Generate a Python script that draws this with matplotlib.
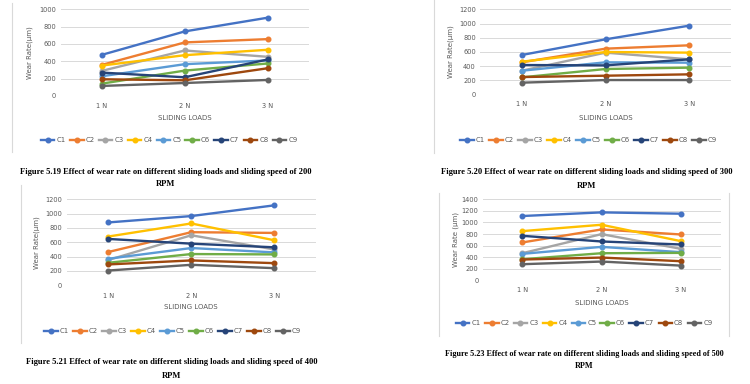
import matplotlib.pyplot as plt
from matplotlib.lines import Line2D

# categories and series names
loads = ["1 N", "2 N", "3 N"]
series = ["C1", "C2", "C3", "C4", "C5", "C6", "C7", "C8", "C9"]
colors = ["#4472C4", "#ED7D31", "#A5A5A5", "#FFC000", "#5B9BD5",
          "#70AD47", "#264478", "#9E480E", "#636363"]

# wear rate values (um), one row per series C1..C9
rpm200 = [[475, 745, 903], [359, 618, 656], [290, 525, 452],
          [351, 471, 533], [228, 367, 410], [143, 293, 375],
          [270, 216, 421], [193, 181, 320], [116, 150, 185]]
rpm300 = [[558, 778, 970], [455, 647, 694], [337, 591, 497],
          [464, 600, 591], [337, 455, 450], [244, 361, 380],
          [417, 412, 497], [248, 267, 286], [169, 206, 206]]
rpm400 = [[877, 966, 1116], [464, 741, 731], [352, 698, 500],
          [680, 863, 628], [370, 520, 459], [314, 436, 431],
          [647, 581, 530], [291, 347, 309], [206, 286, 239]]
rpm500 = [[1111, 1174, 1151], [654, 879, 792], [468, 798, 544],
          [850, 960, 677], [457, 578, 486], [364, 468, 474],
          [769, 671, 619], [359, 393, 330], [278, 324, 254]]

captions = ["Figure 5.19 Effect of wear rate on different sliding loads and sliding speed of 200",
            "Figure 5.20 Effect of wear rate on different sliding loads and sliding speed of 300",
            "Figure 5.21 Effect of wear rate on different sliding loads and sliding speed of 400",
            "Figure 5.23 Effect of wear rate on different sliding loads and sliding speed of 500"]
ylabels = ["Wear Rate(\u00b5m)", "Wear Rate(\u00b5m)", "Wear Rate(\u00b5m)", "Wear Rate (\u00b5m)"]
ymax = [1000, 1200, 1200, 1400]

W, H = 750, 384
fig = plt.figure(figsize=(W / 100, H / 100), dpi=100)
fig.patch.set_facecolor("white")


def fx(x):
    return x / W


def fy(y):
    return 1 - y / H


# pixel layout of each panel:
# axes (left, right, top, bottom), ylabel x, tick y, xlabel y, legend y,
# caption centre x, caption y, RPM y, border lines
layout = [
    dict(ax=(60.5, 309, 9.3, 96), ylab=30, tick=107, xlab=118, leg=140, legx=(33, 305),
         cx=166, cy=172, ry=184, cs=6.1, borders=[(12, 3, 152)]),
    dict(ax=(480, 731, 9.3, 94.7), ylab=451, tick=105, xlab=118, leg=140, legx=(454, 723),
         cx=587, cy=172, ry=186, cs=6.15, borders=[(434, 0, 153)]),
    dict(ax=(66.5, 316, 199.3, 285.3), ylab=37, tick=296, xlab=307, leg=331, legx=(40, 305),
         cx=172, cy=362, ry=376, cs=6.1, borders=[(21, 185, 343)]),
    dict(ax=(482.6, 720.5, 199.3, 280.3), ylab=456, tick=290, xlab=303, leg=323, legx=(456, 712),
         cx=584, cy=354, ry=366, cs=5.9, borders=[(439, 193, 336), (729, 193, 336)]),
]

data = [rpm200, rpm300, rpm400, rpm500]
grey = "#595959"

for k in range(4):
    L = layout[k]
    left, right, top, bottom = L["ax"]
    ax = fig.add_axes([fx(left), fy(bottom), fx(right) - fx(left), fy(top) - fy(bottom)])
    for i, name in enumerate(series):
        ax.plot(range(3), data[k][i], color=colors[i], lw=1.7, marker="o",
                ms=3.3, label=name, zorder=3)
    ax.set_xlim(-0.5, 2.5)
    ax.set_ylim(0, ymax[k])
    ax.set_yticks(range(0, ymax[k] + 1, 200))
    ax.set_xticks(range(3))
    ax.set_xticklabels(loads)
    ax.tick_params(length=0, labelsize=4.8, labelcolor=grey, pad=3)
    ax.tick_params(axis="x", pad=((L["tick"] - bottom) - 3.5) * 0.72)
    ax.grid(axis="y", color="#D9D9D9", lw=0.7, zorder=0)
    for s in ax.spines.values():
        s.set_visible(False)
    ax.set_axisbelow(True)

    fig.text(fx(L["ylab"]), fy((top + bottom) / 2), ylabels[k], rotation=90,
             ha="center", va="center", fontsize=5, color=grey)
    fig.text(fx((left + right) / 2), fy(L["xlab"]), "SLIDING LOADS",
             ha="center", va="center", fontsize=5, color=grey)

    handles, labels = ax.get_legend_handles_labels()
    lx0, lx1 = L["legx"]
    leg = fig.legend(handles, labels, loc="center",
                     bbox_to_anchor=(fx((lx0 + lx1) / 2), fy(L["leg"])),
                     ncol=9, frameon=False, fontsize=5, handlelength=2.0,
                     handletextpad=0.25, columnspacing=0.6, borderpad=0)
    for t in leg.get_texts():
        t.set_color(grey)

    fig.text(fx(L["cx"]), fy(L["cy"]), captions[k], ha="center", va="center",
             fontsize=L["cs"], fontweight="bold", family="Liberation Serif")
    fig.text(fx(L["cx"]), fy(L["ry"]), "RPM", ha="center", va="center",
             fontsize=L["cs"], fontweight="bold", family="Liberation Serif")

    for bx, by0, by1 in L["borders"]:
        fig.add_artist(Line2D([fx(bx), fx(bx)], [fy(by0), fy(by1)],
                              color="#D9D9D9", lw=0.8))

fig.savefig("out.png", dpi=100, facecolor="white")
